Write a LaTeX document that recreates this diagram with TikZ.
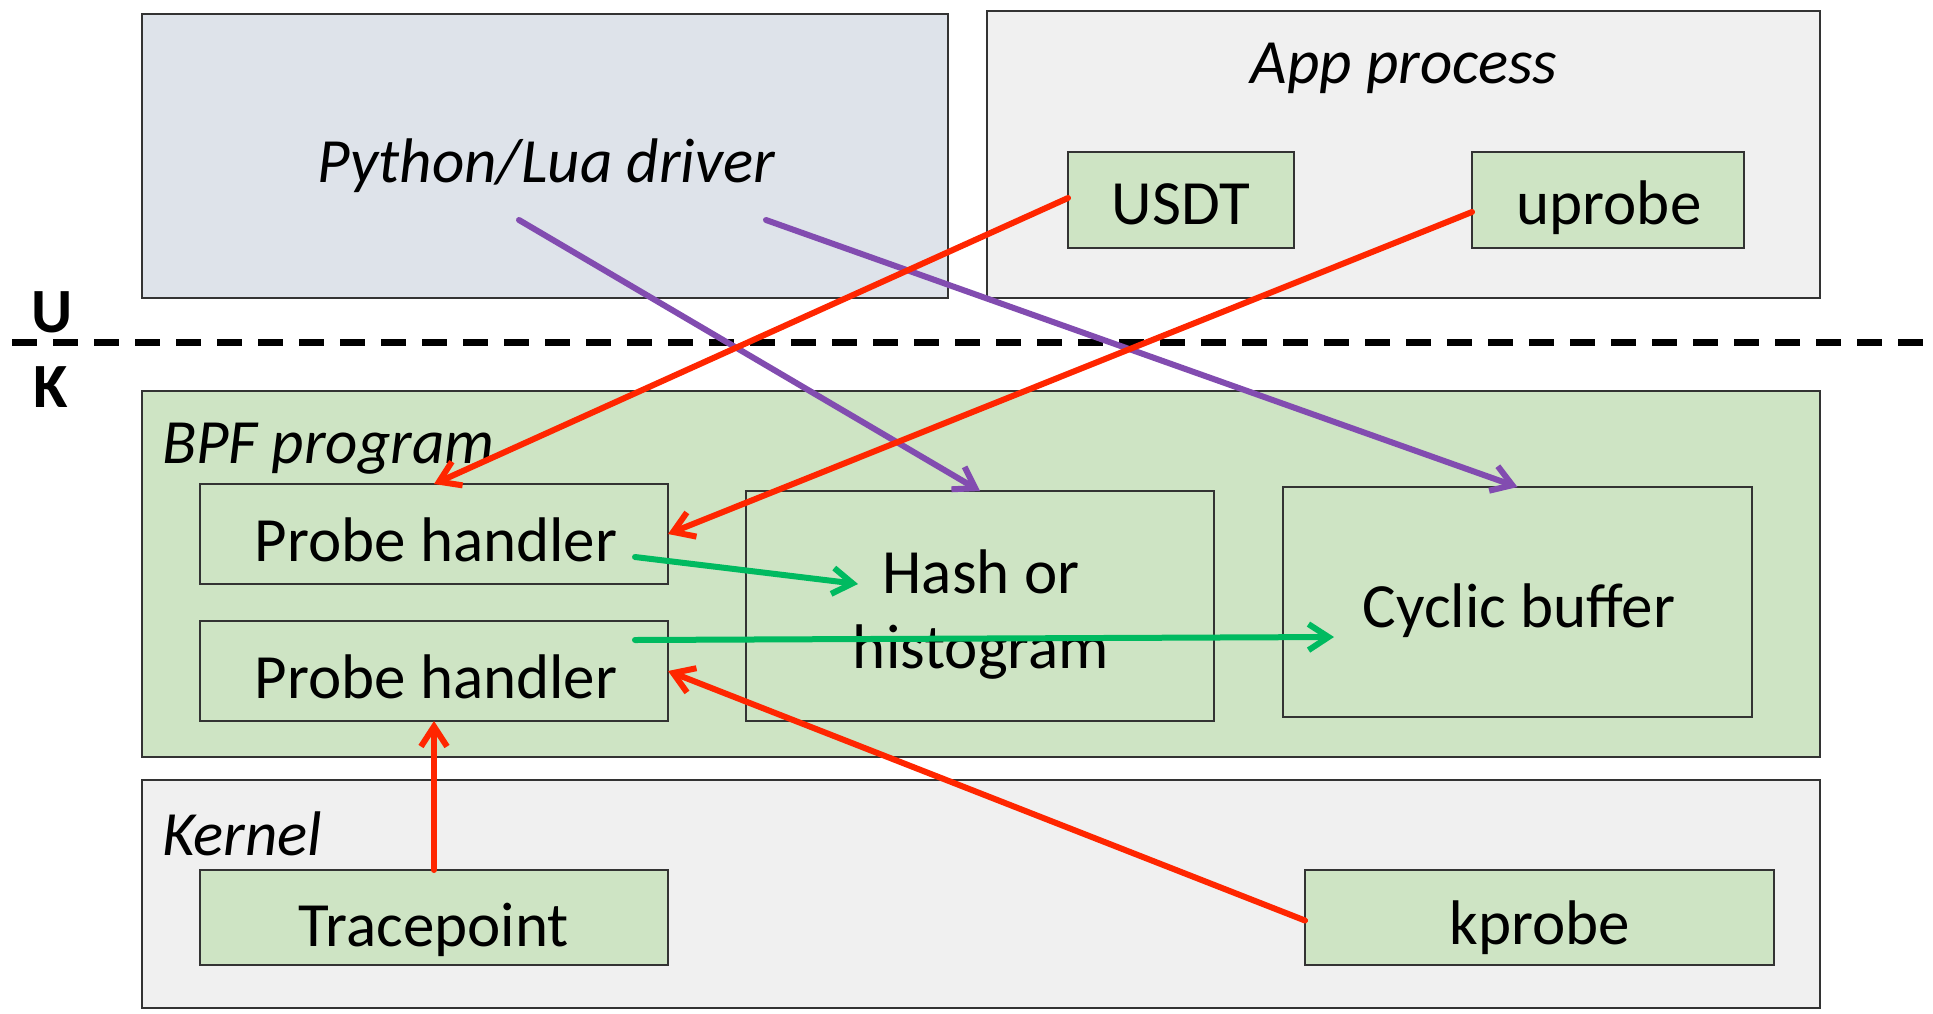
\documentclass[tikz,border=0pt]{standalone}
\usepackage{fontspec}
\setmainfont{Carlito}
\usetikzlibrary{arrows.meta}
\definecolor{pyfill}{RGB}{222,227,234}
\definecolor{grayfill}{RGB}{240,240,240}
\definecolor{grnfill}{RGB}{206,228,196}
\definecolor{redarr}{RGB}{255,38,0}
\definecolor{purarr}{RGB}{130,76,176}
\definecolor{grnarr}{RGB}{0,186,96}
\begin{document}
\begin{tikzpicture}[x=0.5pt,y=-0.5pt,
  box/.style={draw=black!80, line width=0.75pt, inner sep=0pt, outer sep=0pt},
  lbl/.style={font=\fontsize{31.5}{38}\selectfont, inner sep=0pt, outer sep=0pt, anchor=base},
  ilbl/.style={font=\fontsize{31.5}{38}\selectfont\itshape, inner sep=0pt, outer sep=0pt, anchor=base},
  blbl/.style={font=\fontsize{31.5}{38}\selectfont\bfseries, inner sep=0pt, outer sep=0pt, anchor=base},
  conn/.style={line width=3pt, -{Straight Barb[length=10pt,width=13pt]}, line cap=round, line join=round},
  ukline/.style={line width=3.5pt, dash pattern=on 12.5pt off 8pt}
]
\useasboundingbox (0,0) rectangle (1933,1013);

% containers
\node[box, fill=pyfill, minimum width=403pt, minimum height=142pt] (py) at (545,156) {};
\node[box, fill=grayfill, minimum width=416.5pt, minimum height=143.5pt] (app) at (1403.5,154.5) {};
\node[box, fill=grnfill, minimum width=839pt, minimum height=183pt] (bpf) at (981,574) {};
\node[box, fill=grayfill, minimum width=839pt, minimum height=114pt] (kern) at (981,894) {};

% inner boxes
\node[box, fill=grnfill, minimum width=113pt, minimum height=48pt] (usdt) at (1181,200) {};
\node[box, fill=grnfill, minimum width=136pt, minimum height=48pt] (uprobe) at (1608,200) {};
\node[box, fill=grnfill, minimum width=234pt, minimum height=50pt] (ph1) at (434,534) {};
\node[box, fill=grnfill, minimum width=234pt, minimum height=50pt] (ph2) at (434,671) {};
\node[box, fill=grnfill, minimum width=234pt, minimum height=115pt] (hash) at (980,606) {};
\node[box, fill=grnfill, minimum width=234.5pt, minimum height=115pt] (cyc) at (1517.5,602) {};
\node[box, fill=grnfill, minimum width=234pt, minimum height=47.5pt] (tp) at (434,917.5) {};
\node[box, fill=grnfill, minimum width=234.5pt, minimum height=47.5pt] (kp) at (1539.5,917.5) {};

% labels
\node[ilbl] (pyt) at (546,182) {Python/Lua driver};
\node[ilbl] (appt) at (1404,83) {App process};
\node[ilbl, anchor=base west] (bpft) at (162,463) {BPF program};
\node[ilbl, anchor=base west] (kernt) at (162,855) {Kernel};
\node[lbl] (usdtt) at (1181,224) {USDT};
\node[lbl] (uprobet) at (1609,224) {uprobe};
\node[lbl] (ph1t) at (436,561) {Probe handler};
\node[lbl] (ph2t) at (436,698) {Probe handler};
\node[lbl] (hasht1) at (981,593) {Hash or};
\node[lbl] (hasht2) at (981,668) {histogram};
\node[lbl] (cyct) at (1519,627) {Cyclic buffer};
\node[lbl] (tpt) at (434,946) {Tracepoint};
\node[lbl] (kpt) at (1540,944) {kprobe};
\node[blbl] (ut) at (52,332) {U};
\node[blbl] (kt) at (51,407) {K};

% user/kernel boundary
\coordinate (ukl) at (12,342);
\coordinate (ukr) at (1933,342);
\draw[ukline] (ukl) -- (ukr);

% free connector ends
\coordinate (pys1) at (519,220);
\coordinate (pys2) at (766,220);
\coordinate (g1s) at (635,557);
\coordinate (g1e) at (858,584);
\coordinate (g2s) at (635,640);
\coordinate (g2e) at (1334,637);

% connectors
\draw[conn, purarr] (pys1) -- (hash.north);
\draw[conn, purarr] (pys2) -- (cyc.north);
\draw[conn, redarr] ([yshift=1pt]usdt.west) -- (ph1.north);
\draw[conn, redarr] ([yshift=-6pt]uprobe.west) -- (ph1.east);
\draw[conn, grnarr] (g1s) -- (g1e);
\draw[conn, grnarr] (g2s) -- (g2e);
\draw[conn, redarr] ([yshift=-1.5pt]kp.west) -- (ph2.east);
\draw[conn, redarr] (tp.north) -- (ph2.south);
\end{tikzpicture}
\end{document}
